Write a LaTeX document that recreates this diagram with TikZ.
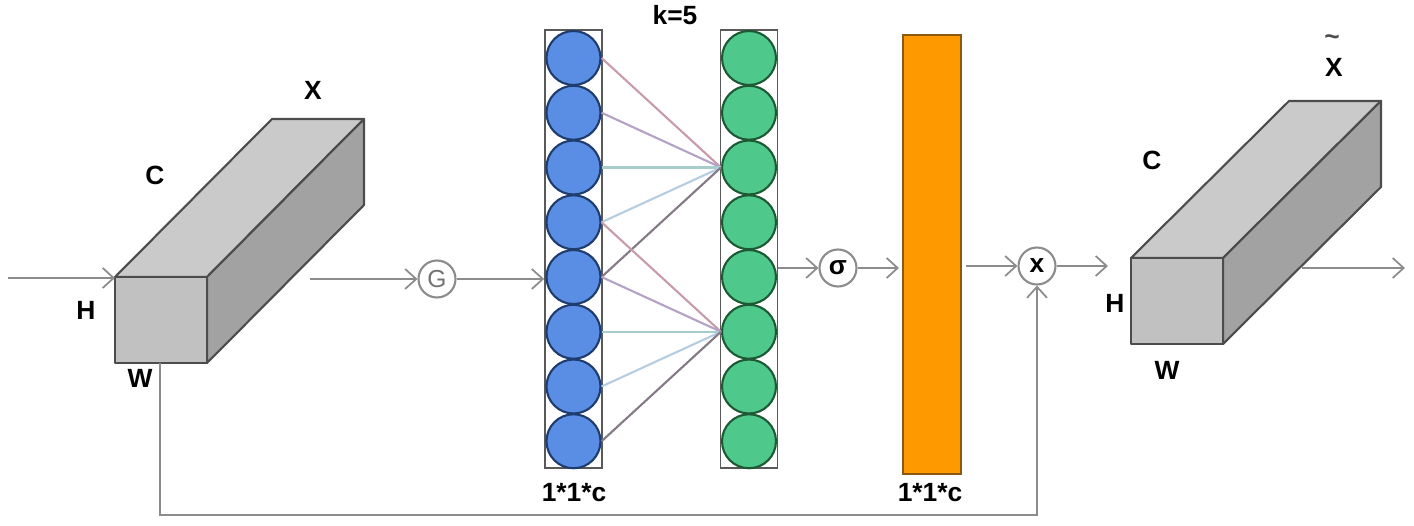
\documentclass[tikz,border=0pt]{standalone}
\usepackage{fontspec}
\setmainfont{Liberation Sans}
\usetikzlibrary{arrows.meta}

\definecolor{wire}{HTML}{8C8C8C}
\definecolor{topgray}{HTML}{CACACA}
\definecolor{frontgray}{HTML}{C1C1C1}
\definecolor{sidegray}{HTML}{A2A2A2}
\definecolor{blueN}{HTML}{5A8EE4}
\definecolor{blueE}{HTML}{1E3C6E}
\definecolor{greenN}{HTML}{4FC88C}
\definecolor{greenE}{HTML}{1C5A34}
\definecolor{barfill}{HTML}{FF9900}
\definecolor{baredge}{HTML}{8A5A10}
\definecolor{wA}{HTML}{C89AAA}
\definecolor{wB}{HTML}{B4A2C6}
\definecolor{wC}{HTML}{A6CCCC}
\definecolor{wD}{HTML}{B6CCE0}
\definecolor{wE}{HTML}{847A86}

\tikzset{
  arr/.style={draw=wire, line width=0.5pt, -{Straight Barb[length=1.1mm,width=2mm]}},
  face/.style={draw=black!70, line width=0.6pt, line join=round},
  lbl/.style={font=\bfseries\fontsize{7.5}{9}\selectfont},
  opnode/.style={circle, draw=wire, line width=0.6pt, fill=white, minimum size=0.37cm, inner sep=0pt, font=\fontsize{7}{8}\selectfont},
  column/.style={draw=black!65, line width=0.5pt, minimum width=0.57cm, inner sep=0pt},
  neuronB/.style={circle, fill=blueN, draw=blueE, line width=0.6pt, minimum size=0.54cm, inner sep=0pt},
  neuronG/.style={circle, fill=greenN, draw=greenE, line width=0.6pt, minimum size=0.54cm, inner sep=0pt},
  link/.style={line width=0.6pt}
}

\begin{document}
\begin{tikzpicture}
\useasboundingbox (0,0) rectangle (14.14,5.25);

% Drawing cuboid X
\filldraw [face, fill=topgray] (1.15,2.48) -- (2.07,2.48) -- (3.64,4.06) -- (2.72,4.06) -- cycle;%
\filldraw [face, fill=sidegray] (2.07,1.62) -- (3.64,3.20) -- (3.64,4.06) -- (2.07,2.48) -- cycle;%
\filldraw [face, fill=frontgray] (1.15,1.62) rectangle (2.07,2.48);%

% Marking labels of X
\node [lbl] (lX) at (3.13,4.35) {X};%
\node [lbl] (lCX) at (1.55,3.50) {C};%
\node [lbl] (lHX) at (0.86,2.15) {H};%
\node [lbl] (lWX) at (1.40,1.47) {W};%

% Points on cuboid X
\coordinate (inX) at (0.08,2.47);%
\coordinate (cornerX) at (1.15,2.47);%
\coordinate (outX) at (3.10,2.46);%
\coordinate (skipX) at (1.60,1.62);%
\coordinate (skipLow) at (1.60,0.10);%

% Pooling G
\node [opnode, text=black!55] (G) at (4.37,2.46) {G};%

% Columns of neurons
\node [column, minimum height=4.38cm] (colB) at (5.735,2.76) {};%
\node [column, minimum height=4.38cm] (colG) at (7.49,2.76) {};%
\foreach \i in {1,...,8} {
  \node [neuronB] (b\i) at (5.735,{4.67-(\i-1)*0.5475}) {};%
  \node [neuronG] (g\i) at (7.49,{4.67-(\i-1)*0.5475}) {};%
}

% Drawing links, k=5
\foreach \i/\c in {1/wA,2/wB,3/wC,4/wD,5/wE}
  \draw [link, \c] (b\i.east) -- (g3.west);%
\foreach \i/\c in {4/wA,5/wB,6/wC,7/wD,8/wE}
  \draw [link, \c] (b\i.east) -- (g6.west);%
\node [lbl] (lk) at (6.75,5.10) {k=5};%
\node [lbl] (lsizeA) at (5.74,0.32) {1*1*c};%

% Sigmoid and weights
\node [opnode, font=\bfseries\fontsize{7.5}{8}\selectfont] (sigma) at (8.38,2.57) {σ};%
\node [draw=baredge, fill=barfill, line width=0.6pt, minimum width=0.58cm, minimum height=4.39cm, inner sep=0pt] (bar) at (9.32,2.705) {};%
\node [lbl] (lsizeB) at (9.30,0.32) {1*1*c};%

% Product
\node [opnode, font=\bfseries\fontsize{7.5}{8}\selectfont] (mul) at (10.37,2.59) {x};%

% Drawing cuboid X tilde
\filldraw [face, fill=topgray] (11.31,2.67) -- (12.23,2.67) -- (13.81,4.24) -- (12.89,4.24) -- cycle;%
\filldraw [face, fill=sidegray] (12.23,1.81) -- (13.81,3.38) -- (13.81,4.24) -- (12.23,2.67) -- cycle;%
\filldraw [face, fill=frontgray] (11.31,1.81) rectangle (12.23,2.67);%

% Marking labels of X tilde
\node [lbl] (lXt) at (13.34,4.58) {X};%
\node [lbl, text=black!70] (ltilde) at (13.32,4.85) {\textasciitilde};%
\node [lbl] (lCY) at (11.52,3.65) {C};%
\node [lbl] (lHY) at (11.15,2.22) {H};%
\node [lbl] (lWY) at (11.67,1.55) {W};%

% Points on cuboid X tilde
\coordinate (inY) at (11.08,2.59);%
\coordinate (outY) at (13.02,2.57);%
\coordinate (endY) at (14.05,2.57);%

% Drawing arrows
\draw [arr] (inX) -- (cornerX);%
\draw [arr] (outX) -- (G);%
\draw [arr] (G) -- (G -| colB.west);%
\draw [arr] (sigma -| colG.east) -- (sigma);%
\draw [arr, shorten >=0.03cm] (sigma) -- (sigma -| bar.west);%
\draw [arr, shorten <=0.04cm] (mul -| bar.east) -- (mul);%
\draw [arr] (mul) -- (inY);%
\draw [arr] (outY) -- (endY);%
\draw [arr] (skipX) -- (skipLow) -| (mul);%
\end{tikzpicture}
\end{document}
